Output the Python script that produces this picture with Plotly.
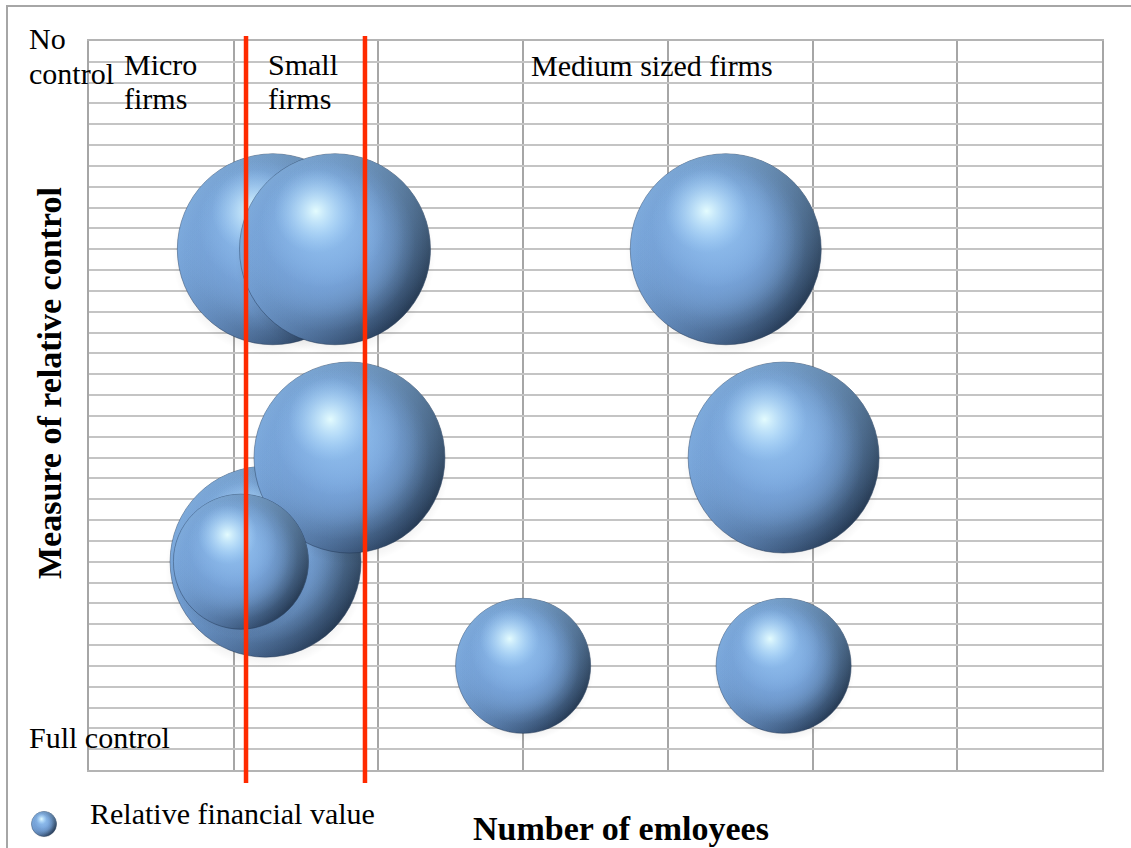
import numpy as np
import plotly.graph_objects as go

# Firm size along the horizontal scale (grid units) and degree of control
# (0 = full control, 7 = no control)
firm_size = [1.27, 1.70, 4.40, 1.22, 1.80, 4.80, 1.05, 3.00, 4.80]
control = [5, 5, 5, 2, 3, 3, 2, 1, 1]
fin_value = [2, 2, 2, 2, 2, 2, 1, 1, 1]

# Boundaries micro | small | medium firms
size_bounds = [1.085, 1.907]

x_range = [0, 7]
y_range = [0, 7]

W, H = 1131, 848
# plot area in page pixels
PL, PR, PT, PB = 89, 1102, 41, 770
x_px = (PR - PL) / (x_range[1] - x_range[0])
y_px = (PB - PT) / (y_range[1] - y_range[0])
BASE_D = 135  # bubble diameter (px) for a value of 1


def diameter(v):
    return BASE_D * np.sqrt(v)


def fx(px):
    return px / W


def fy(py):
    return 1 - py / H


# Shading layers that make a flat marker read as a glossy sphere:
# (size, dx, dy as fractions of the diameter (dy > 0 = down), gradient type,
#  first colour (edge / left / top), second colour (centre / right / bottom))
BODY = "122,167,222"
SPHERE = [
    (1.05, 0.00, 0.035, "radial", "rgba(0,0,0,0)", "rgba(0,0,0,0.45)"),
    (1.00, 0.00, 0.00, "horizontal", "#6f9bd2", "#0f1d31"),
    (1.00, 0.00, 0.00, "vertical", "rgba(150,198,242,0.6)", "rgba(150,198,242,0)"),
    (0.99, -0.005, -0.005, "radial", f"rgba({BODY},0)", f"rgba({BODY},1)"),
    (0.92, -0.04, -0.03, "radial", f"rgba({BODY},0)", f"rgba({BODY},1)"),
    (0.85, -0.06, -0.06, "radial", f"rgba({BODY},0)", f"rgba({BODY},1)"),
    (0.66, -0.06, -0.13, "radial", "rgba(149,195,240,0)", "rgba(149,195,240,1)"),
    (0.44, -0.10, -0.20, "radial", "rgba(170,215,255,0)", "rgba(232,255,255,0.95)"),
]


def sphere_trace(x, y, d, sx=x_px, sy=-y_px, xaxis="x", yaxis="y"):
    xs, ys, sizes, cols, gcols, gtypes, lws, lcols = [], [], [], [], [], [], [], []
    for f, dx, dy, gt, c1, c2 in SPHERE:
        xs.append(x + dx * d / sx)
        ys.append(y + dy * d / sy)
        sizes.append(f * d)
        cols.append(c1)
        gcols.append(c2)
        gtypes.append(gt)
        is_base = gt == "horizontal"
        lws.append(0.8 if is_base else 0)
        lcols.append("rgba(30,50,80,0.6)" if is_base else "rgba(0,0,0,0)")
    return go.Scatter(
        x=xs, y=ys, mode="markers", xaxis=xaxis, yaxis=yaxis,
        marker=dict(size=sizes, sizemode="diameter", color=cols, opacity=1,
                    gradient=dict(type=gtypes, color=gcols),
                    line=dict(width=lws, color=lcols)),
        hoverinfo="skip", showlegend=False,
    )


fig = go.Figure()
for xv, yv, v in zip(firm_size, control, fin_value):
    fig.add_trace(sphere_trace(xv, yv, diameter(v)))

# legend symbol, placed on a page-pixel axis pair
fig.add_trace(sphere_trace(44, 824, 25, sx=1, sy=1, xaxis="x2", yaxis="y2"))

FONT = "Liberation Serif"
ann = []


def label(text, px, baseline, size=30, bold=False, anchor="left"):
    mid = baseline - 0.33 * size
    ann.append(dict(
        text=f"<b>{text}</b>" if bold else text,
        x=fx(px), y=fy(mid), xref="paper", yref="paper",
        xanchor=anchor, yanchor="middle", showarrow=False, align="left",
        font=dict(family=FONT, size=size, color="black"),
    ))


label("No", 27, 48)
label("control", 27, 83)
label("Micro", 122, 74)
label("firms", 122, 108)
label("Small", 266, 74)
label("firms", 266, 108)
label("Medium sized firms", 529, 75)
label("Full control", 27, 747)
label("Relative financial value", 88, 823)
label("Number of emloyees", 621, 840, size=34, bold=True, anchor="center")
ann.append(dict(
    text="<b>Measure of relative control</b>", textangle=-90,
    x=fx(50), y=fy(383), xref="paper", yref="paper",
    xanchor="center", yanchor="middle", showarrow=False,
    font=dict(family=FONT, size=34, color="black"),
))

shapes = [
    dict(type="rect", xref="paper", yref="paper",
         x0=fx(7), x1=fx(1145), y0=fy(870), y1=fy(6),
         line=dict(color="#a6a6a6", width=2), fillcolor="rgba(0,0,0,0)", layer="below"),
]
for b in size_bounds:
    shapes.append(dict(type="line", xref="x", yref="paper", x0=b, x1=b,
                       y0=fy(783), y1=fy(36),
                       line=dict(color="#ff2a00", width=4.5)))

fig.update_layout(
    width=W, height=H, margin=dict(l=0, r=0, t=0, b=0, pad=0),
    paper_bgcolor="white", plot_bgcolor="rgba(0,0,0,0)",
    showlegend=False,
    annotations=ann, shapes=shapes,
    xaxis=dict(domain=[PL / W, PR / W], range=x_range, dtick=1, tick0=0,
               showgrid=True, gridcolor="#a6a6a6", gridwidth=2,
               showticklabels=False, ticks="", zeroline=False,
               showline=True, mirror=True, linecolor="#b4b4b4", linewidth=2,
               fixedrange=True),
    yaxis=dict(domain=[1 - PB / H, 1 - PT / H], range=y_range, dtick=0.2, tick0=0,
               showgrid=True, gridcolor="#c4c4c4", gridwidth=1.6,
               showticklabels=False, ticks="", zeroline=False,
               showline=True, mirror=True, linecolor="#a6a6a6", linewidth=2,
               fixedrange=True),
    xaxis2=dict(domain=[0, 1], range=[0, W], visible=False, anchor="y2",
                fixedrange=True),
    yaxis2=dict(domain=[0, 1], range=[H, 0], visible=False, anchor="x2",
                fixedrange=True),
)

fig.write_html("out.html")
